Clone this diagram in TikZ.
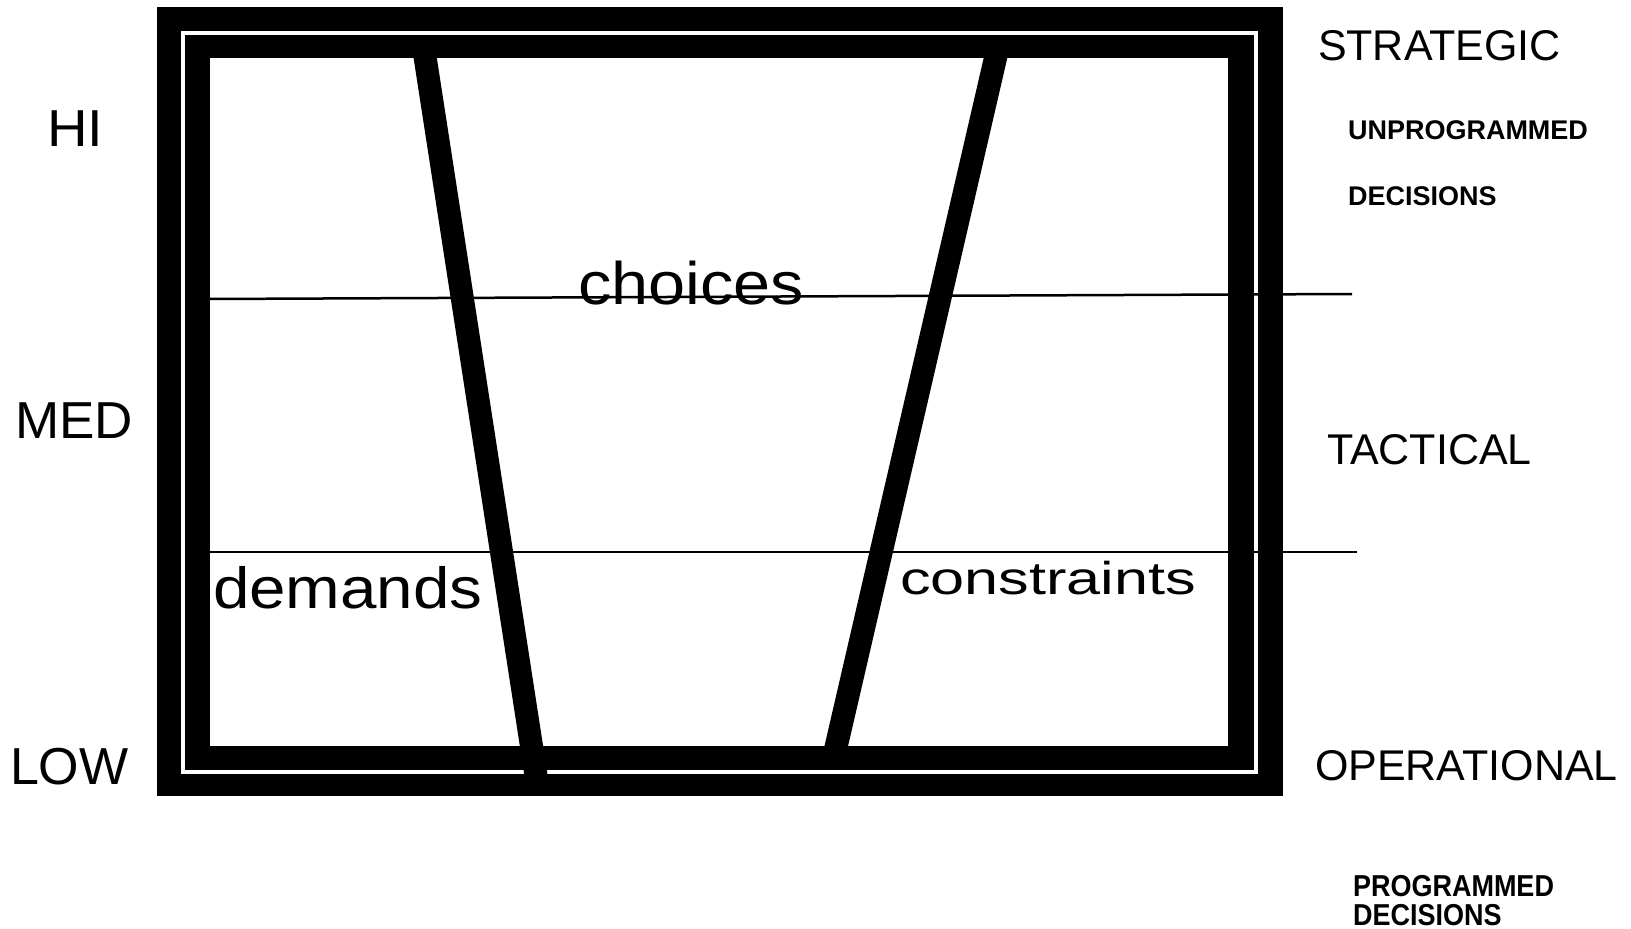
\documentclass[tikz,border=0pt]{standalone}
\usepackage{fontspec}
\usepackage{graphicx}
\setmainfont{Liberation Sans}
\begin{document}
\begin{tikzpicture}[x=1pt,y=-1pt,
  lbl/.style={anchor=base west, inner sep=0pt, outer sep=0pt},
  big/.style={lbl, font=\fontsize{52}{60}\selectfont},
  mid/.style={lbl, font=\fontsize{43}{50}\selectfont},
  small/.style={lbl, font=\fontsize{27}{32}\selectfont\bfseries},
  inside/.style={lbl},
  bar/.style={line width=23pt, line cap=butt},
  level/.style={line width=2.5pt}]
\useasboundingbox (0,0) rectangle (1631,929);
\fill[white] (0,0) rectangle (1631,929);
% frame
\fill[black] (157,7) rectangle (1283,796);
\draw[white, line width=4pt] (182.5,32.5) rectangle (1255.5,771.5);
\fill[white] (210,58) rectangle (1228,746);
% level lines
\coordinate (u1) at (208,299);
\coordinate (u2) at (1352,294);
\coordinate (l1) at (210,552);
\coordinate (l2) at (1357,552);
\draw[level] (u1) -- (u2);
\draw[level] (l1) -- (l2);
% slanted bars
\coordinate (a1) at (423.2,45);
\coordinate (a2) at (537.5,785);
\coordinate (b1) at (998.5,45);
\coordinate (b2) at (833.5,758);
\draw[bar] (a1) -- (a2);
\draw[bar] (b1) -- (b2);
% inner labels
\node[inside, font=\fontsize{60}{70}\selectfont] (choices) at (578,304) {\scalebox{1.11}[1]{choices}};
\node[inside, font=\fontsize{58}{68}\selectfont] (demands) at (213,608) {\scalebox{1.13}[1]{demands}};
\node[inside, font=\fontsize{46}{54}\selectfont] (constraints) at (900,594) {\scalebox{1.33}[1]{constraints}};
% left labels
\node[big] (hi) at (47,146) {\scalebox{1.08}[1]{HI}};
\node[big] (med) at (15,438) {\scalebox{1.02}[1]{MED}};
\node[big] (low) at (10,784) {LOW};
% right labels
\node[mid] (strat) at (1318,60) {STRATEGIC};
\node[small] (unprog) at (1348,139) {UNPROGRAMMED};
\node[small] (dec1) at (1348,205) {DECISIONS};
\node[mid] (tact) at (1327,464) {TACTICAL};
\node[mid] (oper) at (1315,780) {OPERATIONAL};
\node[small] (prog) at (1353,896) {\scalebox{1}[1.12]{PROGRAMMED}};
\node[small] (dec2) at (1353,925) {\scalebox{1}[1.12]{DECISIONS}};
\end{tikzpicture}
\end{document}
